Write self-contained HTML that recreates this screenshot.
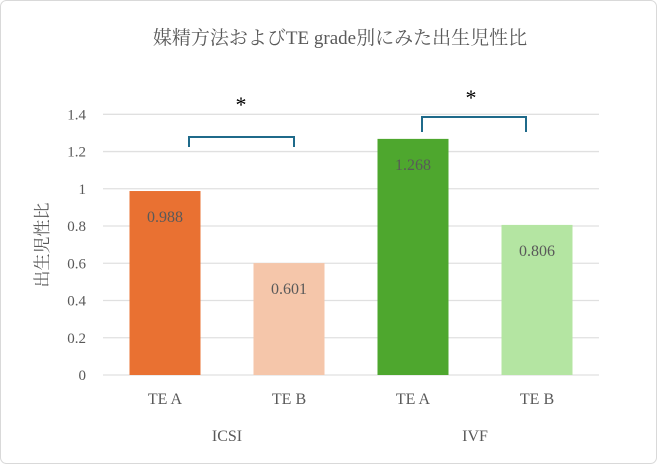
<!DOCTYPE html>
<html><head><meta charset="utf-8"><style>
html,body{margin:0;padding:0;background:#fff;}
svg{display:block;font-family:"Liberation Serif","Noto Serif CJK SC",serif;}
</style></head><body>
<svg width="657" height="464" viewBox="0 0 657 464">
<rect x="0.5" y="0.5" width="656" height="463" rx="6" fill="#fff" stroke="#d9d9d9"/>
<text x="340" y="44" text-anchor="middle" font-size="19" fill="#595959">媒精方法およびTE grade別にみた出生児性比</text>
<text transform="translate(48,245) rotate(-90)" text-anchor="middle" font-size="17" fill="#595959">出生児性比</text>
<g id="grid"></g><g id="bars"></g><g id="labels"></g>
<g fill="none" stroke="#1f6a8a" stroke-width="2">
<path d="M189,147 V137 H294 V147"/>
<path d="M422,132 V117 H526 V132"/>
</g>
<text x="241" y="112" text-anchor="middle" font-size="22" fill="#000">*</text>
<text x="471" y="105" text-anchor="middle" font-size="22" fill="#000">*</text>
<text x="227" y="441" text-anchor="middle" font-size="16" fill="#595959">ICSI</text>
<text x="475" y="441" text-anchor="middle" font-size="16" fill="#595959">IVF</text>
</svg>
<script>
const categories=["TE A","TE B","TE A","TE B"];
const values=[0.988,0.601,1.268,0.806];
const valueLabels=["0.988","0.601","1.268","0.806"];
const ticks=[0,0.2,0.4,0.6,0.8,1,1.2,1.4];
const tickLabels=["0","0.2","0.4","0.6","0.8","1","1.2","1.4"];
const colors=["#e97132","#f5c6aa","#4ea72e","#b4e5a2"];
const NS="http://www.w3.org/2000/svg";
const X0=103,X1=599,Y0=375,Y1=114.3,YMAX=1.4;
const y=v=>Y0-(v/YMAX)*(Y0-Y1);
const bw=(X1-X0)/categories.length;
const xc=i=>X0+bw*(i+0.5);
function mk(t,a,p){const e=document.createElementNS(NS,t);for(const k in a)e.setAttribute(k,a[k]);p.appendChild(e);return e;}
const g=document.getElementById('grid'),b=document.getElementById('bars'),l=document.getElementById('labels');
ticks.forEach((t,i)=>{
 const ln=mk('line',{x1:X0,x2:X1,y1:y(t),y2:y(t),stroke:'#e0e0e0','stroke-width':1.3},g);
 
 
 const tx=mk('text',{x:86,y:y(t)+5,'text-anchor':'end','font-size':15,fill:'#595959'},l);
 tx.textContent=tickLabels[i];
 
 
});
values.forEach((v,i)=>{
 const r=mk('rect',{x:xc(i)-35.5,y:y(v),width:71,height:Y0-y(v),fill:colors[i]},b);
 
 
 const t=mk('text',{x:xc(i),y:y(v)+31,'text-anchor':'middle','font-size':16,fill:'#595959'},l);
 t.textContent=valueLabels[i];
 
 
 const c=mk('text',{x:xc(i),y:404,'text-anchor':'middle','font-size':16,fill:'#595959'},l);
 c.textContent=categories[i];
 
 
});
</script>
</body></html>
